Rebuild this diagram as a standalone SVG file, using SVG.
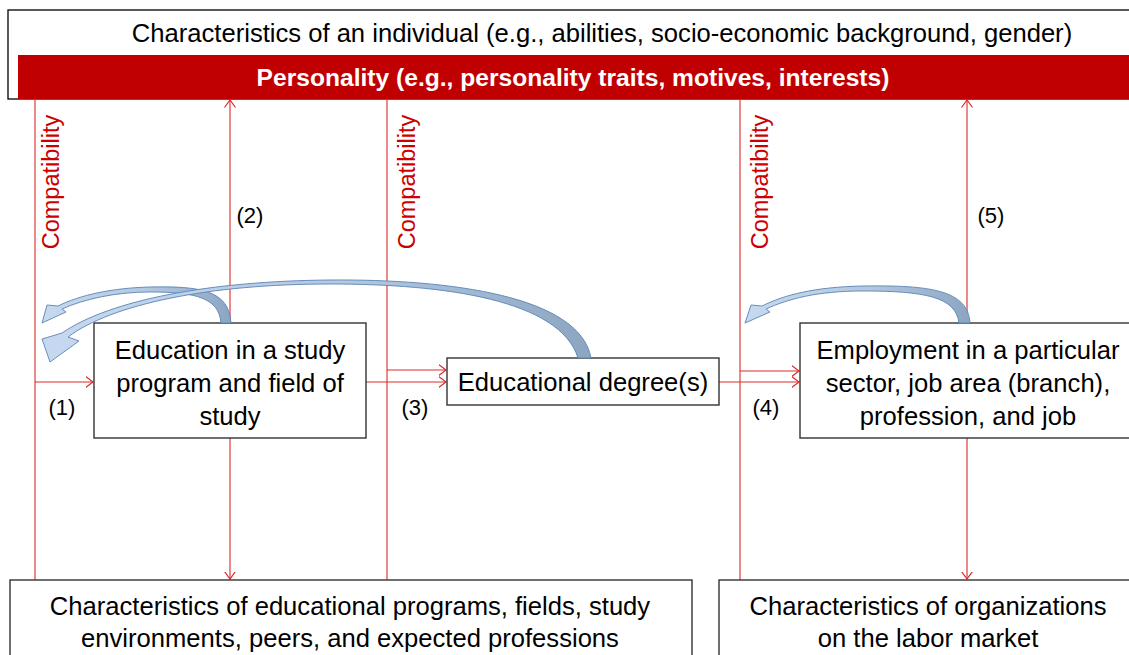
<svg xmlns="http://www.w3.org/2000/svg" width="1129" height="655" viewBox="0 0 1129 655">
  <style>
    .box { fill: #ffffff; stroke: #333333; stroke-width: 1.4; }
    .txt { font-family: "Liberation Sans", Arial, sans-serif; font-size: 25.6px; fill: #000000; text-anchor: middle; }
    .hdr { font-family: "Liberation Sans", Arial, sans-serif; font-size: 24.6px; font-weight: bold; fill: #ffffff; text-anchor: middle; }
    .num { font-family: "Liberation Sans", Arial, sans-serif; font-size: 22px; fill: #000000; text-anchor: middle; }
    .cmp { font-family: "Liberation Sans", Arial, sans-serif; font-size: 23.5px; fill: #cc0000; text-anchor: middle; }
    .link { fill: none; stroke: #dc2a2a; stroke-width: 1.1; }
    .curve { fill: url(#bandFill); stroke: #5a84b3; stroke-width: 0.9; stroke-linejoin: round; }
  </style>
  <defs>
    <marker id="vhead" viewBox="0 0 8 12" refX="7.5" refY="6" markerWidth="8" markerHeight="12" markerUnits="userSpaceOnUse" orient="auto-start-reverse">
      <path d="M0,0.5 L7.5,6 L0,11.5" fill="none" stroke="#dc2a2a" stroke-width="1.2"/>
    </marker>
    <linearGradient id="bandFill" x1="0" y1="0" x2="1" y2="0">
      <stop offset="0" stop-color="#c6d9f0"/>
      <stop offset="0.55" stop-color="#b3c8e1"/>
      <stop offset="0.85" stop-color="#9ab2cd"/>
      <stop offset="1" stop-color="#8ba5c2"/>
    </linearGradient>
  </defs>

  <!-- individual characteristics with personality bar -->
  <g id="individual">
    <rect x="8" y="10" width="1130" height="89" fill="#ffffff" stroke="#000000" stroke-width="1.3"/>
    <text class="txt" x="602" y="42">Characteristics of an individual (e.g., abilities, socio-economic background, gender)</text>
  </g>
  <g id="personality">
    <rect x="18" y="55" width="1120" height="44" fill="#c00000"/>
    <text class="hdr" x="573" y="86">Personality (e.g., personality traits, motives, interests)</text>
  </g>

  <!-- connectors -->
  <g id="connectors">
    <!-- compatibility lines -->
    <line class="link" x1="35" y1="99" x2="35" y2="580"/>
    <line class="link" x1="387" y1="99" x2="387" y2="580"/>
    <line class="link" x1="740" y1="99" x2="740" y2="580"/>
    <!-- (2) and (5) two-way links -->
    <line class="link" x1="230" y1="100" x2="230" y2="579" marker-start="url(#vhead)" marker-end="url(#vhead)"/>
    <line class="link" x1="967" y1="100" x2="967" y2="579" marker-start="url(#vhead)" marker-end="url(#vhead)"/>
    <!-- (1) -->
    <line class="link" x1="35" y1="382" x2="93" y2="382" marker-end="url(#vhead)"/>
    <!-- (3) -->
    <line class="link" x1="387" y1="370" x2="446" y2="370" marker-end="url(#vhead)"/>
    <line class="link" x1="366" y1="382" x2="446" y2="382" marker-end="url(#vhead)"/>
    <!-- (4) -->
    <line class="link" x1="740" y1="371" x2="799" y2="371" marker-end="url(#vhead)"/>
    <line class="link" x1="719" y1="382" x2="799" y2="382" marker-end="url(#vhead)"/>
  </g>

  <!-- compatibility labels -->
  <g id="compatibility-labels">
    <text class="cmp" transform="translate(59,182) rotate(-90)">Compatibility</text>
    <text class="cmp" transform="translate(415,182) rotate(-90)">Compatibility</text>
    <text class="cmp" transform="translate(768,182) rotate(-90)">Compatibility</text>
  </g>

  <!-- step numbers -->
  <g id="step-numbers">
    <text class="num" x="62" y="415">(1)</text>
    <text class="num" x="250" y="223">(2)</text>
    <text class="num" x="415" y="415">(3)</text>
    <text class="num" x="766" y="415">(4)</text>
    <text class="num" x="991" y="223">(5)</text>
  </g>

  <!-- nodes -->
  <g id="education">
    <rect class="box" x="94" y="323" width="272" height="115"/>
    <text class="txt" x="230" y="359">Education in a study</text>
    <text class="txt" x="230" y="392">program and field of</text>
    <text class="txt" x="230" y="425">study</text>
  </g>
  <g id="degree">
    <rect class="box" x="447" y="358" width="272" height="47"/>
    <text class="txt" x="583" y="391">Educational degree(s)</text>
  </g>
  <g id="employment">
    <rect class="box" x="800" y="323" width="340" height="115"/>
    <text class="txt" x="968" y="359">Employment in a particular</text>
    <text class="txt" x="968" y="392">sector, job area (branch),</text>
    <text class="txt" x="968" y="425">profession, and job</text>
  </g>
  <g id="educational-context">
    <rect class="box" x="10" y="580" width="682" height="90"/>
    <text class="txt" x="350" y="615">Characteristics of educational programs, fields, study</text>
    <text class="txt" x="350" y="647">environments, peers, and expected professions</text>
  </g>
  <g id="labor-market">
    <rect class="box" x="719" y="580" width="420" height="90"/>
    <text class="txt" x="928" y="615">Characteristics of organizations</text>
    <text class="txt" x="928" y="647">on the labor market</text>
  </g>

  <!-- feedback arrows -->
  <g id="feedback-arrows">
    <path class="curve" d="M231,323 C229,290 200,286 150,287 C112,288 80,295 58,306 L47,305 L42,323 L66,312 L62,309 C84,299 116,292 150,292 C196,292 219,298 221,323 Z"/>
    <path class="curve" d="M591,358 C580,296 450,279 330,280 C210,281 110,300 62,333 L42,339 L50,362 L79,341 L68,337 C112,304 210,284 330,284 C445,284 560,300 578,358 Z"/>
    <path class="curve" d="M970,323 C968,290 930,285 863,286 C814,287 784,295 762,306 L751,305 L745,323 L770,312 L766,309 C788,299 817,291 863,291 C925,291 956,297 959,323 Z"/>
  </g>
</svg>
